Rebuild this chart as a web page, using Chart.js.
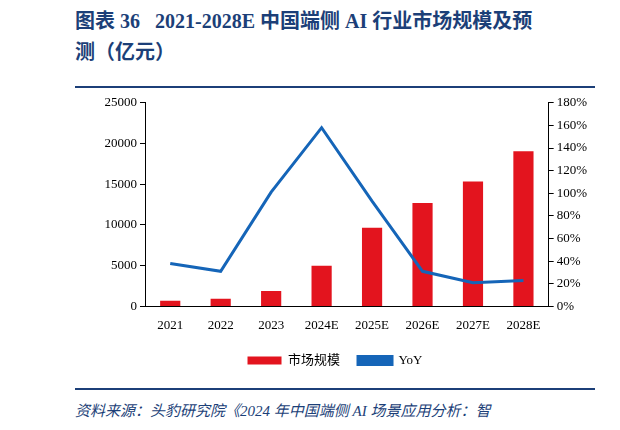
<!DOCTYPE html>
<html><head><meta charset="utf-8">
<script src="https://cdn.jsdelivr.net/npm/chart.js@4"></script>
<style>
body{margin:0;width:620px;height:430px;background:#fff;position:relative;overflow:hidden;font-family:"Liberation Serif","Noto Sans CJK SC",serif;}
#t{position:absolute;left:75px;top:6px;width:540px;font-size:20px;font-weight:bold;color:#1c3f78;line-height:31px;white-space:nowrap;}
#l1{position:absolute;left:75px;top:86px;width:520px;height:2px;background:#1c3f78;}
#l2{position:absolute;left:75px;top:388px;width:520px;height:2px;background:#1c3f78;}
#f{position:absolute;left:75px;top:399px;font-size:15px;font-style:italic;color:#1c3f78;white-space:nowrap;}
#c{position:absolute;left:80px;top:92px;width:510px;height:285px;}
</style></head><body>
<div id="t">图表 36&nbsp;&nbsp;&nbsp;2021-2028E 中国端侧 AI 行业市场规模及预<br>测（亿元）</div>
<div id="l1"></div>
<div id="c"><canvas id="cv"></canvas></div>
<div id="l2"></div>
<div id="f">资料来源：头豹研究院《2024 年中国端侧 AI 场景应用分析：智</div>
<script>
const categories=["2021","2022","2023","2024E","2025E","2026E","2027E","2028E"];
const marketSize=[700,950,1900,5000,9650,12700,15350,19050];
const yoy=[38,31,101,158,93,31,21,23];
const font={family:"'Liberation Serif','Noto Sans CJK SC',serif",size:13};
new Chart(document.getElementById('cv'),{
data:{labels:categories,datasets:[
{type:'line',label:'YoY',data:yoy,yAxisID:'y1',borderColor:'#1565b8',backgroundColor:'#1565b8',borderWidth:3,pointRadius:0,pointStyle:'line',tension:0,order:0},
{type:'bar',label:'市场规模',data:marketSize,yAxisID:'y',backgroundColor:'#e3141e',pointStyle:'rect',categoryPercentage:1,barPercentage:0.4,order:1}
]},
options:{responsive:true,maintainAspectRatio:false,animation:false,
layout:{padding:{left:0,right:0,top:5,bottom:0}},
plugins:{legend:{position:'bottom',reverse:true,labels:{font:font,color:'#000',boxWidth:34,boxHeight:8,padding:18,
 generateLabels:(ch)=>ch.data.datasets.map((d,i)=>({text:d.label,fillStyle:d.backgroundColor,strokeStyle:d.borderColor||d.backgroundColor,lineWidth:d.type==='line'?3:0,datasetIndex:i,hidden:false,fontColor:'#000',pointStyle:d.type==='line'?'line':'rect'}))}},tooltip:{enabled:false}},
scales:{
x:{grid:{display:false},border:{color:'#000'},ticks:{font:font,color:'#000'}},
y:{min:0,max:25000,afterFit:s=>{s.width=65},ticks:{stepSize:5000,font:font,color:'#000',callback:v=>String(v)},grid:{display:true,drawOnChartArea:false,tickLength:5,color:'#000'},border:{color:'#000'}},
y1:{position:'right',min:0,max:180,ticks:{stepSize:20,font:font,color:'#000',callback:v=>v+'%'},grid:{display:true,drawOnChartArea:false,tickLength:5,color:'#000'},border:{color:'#000'}}
}}});
</script></body></html>
